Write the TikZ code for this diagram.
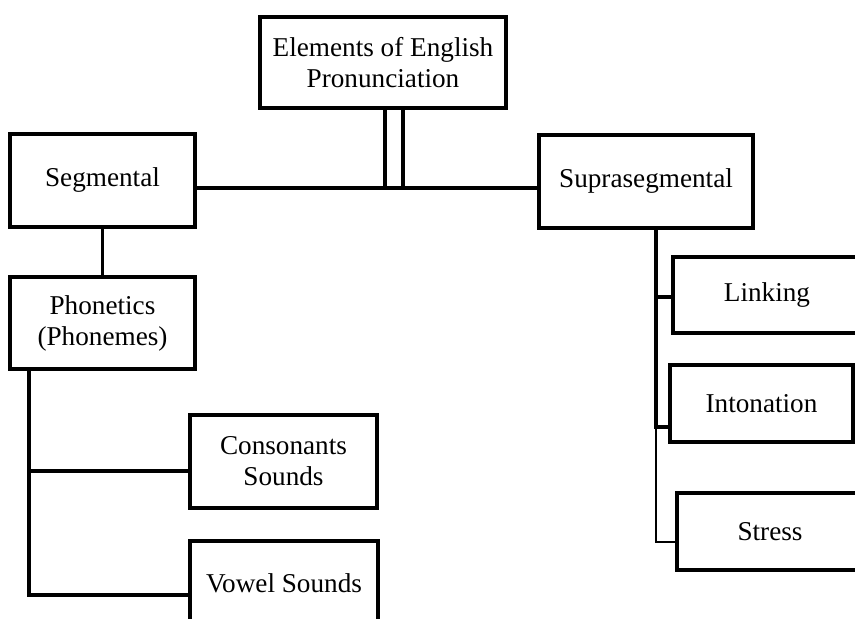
\documentclass[tikz,border=0pt]{standalone}
\usepackage{fontspec}
\setmainfont{Liberation Serif}
\usetikzlibrary{positioning,calc}

\tikzset{
  box/.style={draw, line width=2.2pt, align=center, inner sep=2pt,
    font=\fontsize{13.6}{15.5}\selectfont, minimum height=46.5pt},
  conn/.style={line width=1.6pt},
  thinconn/.style={line width=0.75pt}
}

\begin{document}
\begin{tikzpicture}[x=0.5pt,y=-0.5pt]
  \clip (0,0) rectangle (855,619);
  % top
  \node[box, minimum width=123pt, minimum height=45.5pt] (elem) at (383,62.5) {Elements of English\\Pronunciation};
  % two branches
  \node[box, minimum width=92.5pt] (seg) at (102.5,180.5) {Segmental};
  \node[box, minimum width=107pt] (supra) at (646,181.5) {Suprasegmental};
  % segmental side
  \node[box, minimum width=92.5pt, minimum height=46pt] (phon) at (102.5,323) {Phonetics\\(Phonemes)};
  \node[box, minimum width=93.5pt] (cons) at (283.5,461.5) {Consonants\\Sounds};
  \node[box, minimum width=94pt, minimum height=42pt] (vowel) at (284,583) {Vowel Sounds};
  % suprasegmental side
  \node[box, minimum width=100pt, minimum height=38pt] (linking) at (773,295) {};
  \node[font=\fontsize{13.6}{15.5}\selectfont] (linktxt) at (767,295) {Linking};
  \node[box, minimum width=91.5pt, minimum height=38.5pt] (inton) at (761.5,403.5) {Intonation};
  \node[box, minimum width=100pt, minimum height=38.5pt] (stress) at (777,531.5) {};
  \node[font=\fontsize{13.6}{15.5}\selectfont] (stresstxt) at (770,531.5) {Stress};

  \coordinate (hub) at (394,188);
  \draw[conn] ([xshift=1pt]elem.south) -- ([xshift=1pt]elem.south |- hub);
  \draw[conn] ([xshift=10pt]elem.south) -- ([xshift=10pt]elem.south |- hub);
  \draw[conn] (seg.east |- hub) -- (supra.west |- hub);

  % segmental tree
  \draw[conn] (seg.south) -- (phon.north);
  \coordinate (pc) at (29,471);
  \coordinate (pv) at (29,595);
  \draw[conn] (pc |- phon.south) -- (pv) -- (pv -| vowel.west);
  \draw[conn] (pc) -- (pc -| cons.west);

  % suprasegmental tree
  \coordinate (sl) at (656,297);
  \coordinate (si) at (656,427);
  \coordinate (ss) at (656,542);
  \draw[conn] (sl |- supra.south) -- (si) -- (si -| inton.west);
  \draw[conn] (sl) -- (sl -| linking.west);
  \draw[thinconn] (si) -- (ss) -- (ss -| stress.west);
\end{tikzpicture}
\end{document}
